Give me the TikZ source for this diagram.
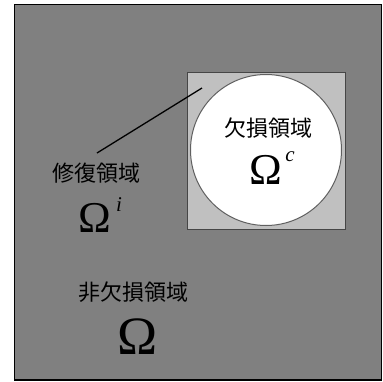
\documentclass[tikz,border=0pt]{standalone}
\usepackage{fontspec}
\setmainfont{Liberation Serif}
\newfontfamily\cjk{Noto Sans CJK JP}
\begin{document}
\begin{tikzpicture}[x=1pt,y=-1pt,
  lbl/.style={inner sep=0pt,font=\cjk\fontsize{22}{22}\selectfont},
  om/.style={inner sep=0pt,font=\fontsize{44}{44}\selectfont},
  sup/.style={inner sep=0pt,font=\itshape\fontsize{21}{21}\selectfont}]
\useasboundingbox (0,0) rectangle (383,381);
\draw[fill={rgb,255:red,128;green,128;blue,128},draw=black,line width=1.2pt] (14.5,4.5) rectangle (381.5,380);
\draw[fill={rgb,255:red,192;green,192;blue,192},draw={rgb,255:red,70;green,70;blue,70},line width=1pt] (187,72) rectangle (345,229);
\node[circle,minimum size=151pt,inner sep=0pt,fill=white,draw={rgb,255:red,96;green,96;blue,96},line width=1pt] (hole) at (266,150) {};
\node[lbl] (lc) at (268,128) {欠損領域};
\node[om] (oc) at (265.5,169.5) {Ω};
\node[sup] (sc) at (290,157) {c};
\node[lbl] (li) at (96.5,173) {修復領域};
\node[om] (oi) at (95,217.5) {Ω};
\node[sup] (si) at (119,204.5) {i};
\node[lbl] (lo) at (133.5,292) {非欠損領域};
\node[om,font=\fontsize{54}{54}\selectfont] (oo) at (137.5,336.5) {Ω};
\coordinate (a) at (97,153);
\coordinate (b) at (202,88);
\draw[line width=1.3pt] (a) -- (b);
\end{tikzpicture}
\end{document}
